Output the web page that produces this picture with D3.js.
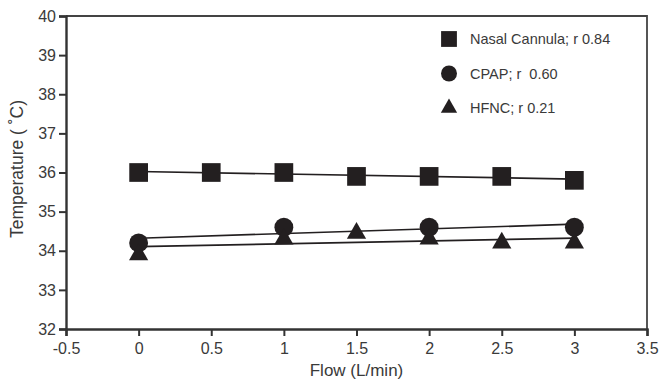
<!DOCTYPE html>
<html>
<head>
<meta charset="utf-8">
<script src="https://cdnjs.cloudflare.com/ajax/libs/d3/7.8.5/d3.min.js"></script>
<style>
  body { margin: 0; background: #fff; }
  text { font-family: "Liberation Sans", Arial, sans-serif; fill: #3a3a3a; }
</style>
</head>
<body>
<div id="chart"></div>
<script>
// data
const flowTicks = [-0.5, 0, 0.5, 1, 1.5, 2, 2.5, 3, 3.5];
const tempTicks = [32, 33, 34, 35, 36, 37, 38, 39, 40];

const nasalFlow = [0, 0.5, 1, 1.5, 2, 2.5, 3];
const nasalTemp = [36.0, 36.0, 36.0, 35.9, 35.9, 35.9, 35.8];
const cpapFlow = [0, 1, 2, 3];
const cpapTemp = [34.2, 34.6, 34.6, 34.6];
const hfncFlow = [0, 1, 1.5, 2, 2.5, 3];
const hfncTemp = [33.9, 34.3, 34.45, 34.3, 34.2, 34.2];

const seriesNames = ['Nasal Cannula; r 0.84', 'CPAP; r  0.60', 'HFNC; r 0.21'];
const seriesSymbols = [d3.symbolSquare, d3.symbolCircle, d3.symbolTriangle];

const W = 659, H = 381;
const margin = { top: 16, right: 12, bottom: 52, left: 66 };
const ink = '#231f20';

const svg = d3.select('#chart').append('svg')
  .attr('width', W).attr('height', H);

const x = d3.scaleLinear().domain([-0.5, 3.5]).range([margin.left, W - margin.right]);
const y = d3.scaleLinear().domain([32, 40]).range([H - margin.bottom, margin.top]);

// frame (top + right)
svg.append('path')
  .attr('d', `M${x(-0.5)},${y(40)}H${x(3.5)}V${y(32)}`)
  .attr('fill', 'none').attr('stroke', '#444').attr('stroke-width', 1.8);

const xAxis = svg.append('g')
  .attr('transform', `translate(0,${y(32)})`)
  .call(d3.axisBottom(x).tickValues(flowTicks).tickFormat(d => String(d)).tickSize(7).tickPadding(7));
const yAxis = svg.append('g')
  .attr('transform', `translate(${x(-0.5)},0)`)
  .call(d3.axisLeft(y).tickValues(tempTicks).tickSize(7).tickPadding(3));

[xAxis, yAxis].forEach(g => {
  g.select('.domain').attr('stroke', '#333').attr('stroke-width', 2.4);
  g.selectAll('.tick line').attr('stroke', '#333').attr('stroke-width', 2);
  g.selectAll('.tick text').attr('font-size', 16).attr('fill', '#3a3a3a')
    .style('font-family', '"Liberation Sans", Arial, sans-serif');
});

svg.append('text')
  .attr('x', (x(-0.5) + x(3.5)) / 2).attr('y', 376)
  .attr('text-anchor', 'middle').attr('font-size', 17)
  .text('Flow (L/min)');

svg.append('text')
  .attr('transform', `translate(23,169) rotate(-90)`)
  .attr('text-anchor', 'middle').attr('font-size', 17.5)
  .style('white-space', 'pre')
  .text('Temperature ( ˚C)');

// least squares fit over measured range
function fit(xs, ys) {
  const mx = d3.mean(xs), my = d3.mean(ys);
  const sxy = d3.sum(xs, (v, i) => (v - mx) * (ys[i] - my));
  const sxx = d3.sum(xs, v => (v - mx) * (v - mx));
  const b = sxy / sxx, a = my - b * mx;
  const x0 = d3.min(xs), x1 = d3.max(xs);
  return [[x0, a + b * x0], [x1, a + b * x1]];
}

const series = [
  { xs: nasalFlow, ys: nasalTemp, sym: seriesSymbols[0], size: 350 },
  { xs: cpapFlow, ys: cpapTemp, sym: seriesSymbols[1], size: 280 },
  { xs: hfncFlow, ys: hfncTemp, sym: seriesSymbols[2], size: 160 }
];

const line = d3.line().x(d => x(d[0])).y(d => y(d[1]));

series.forEach(s => {
  svg.append('path')
    .attr('d', line(fit(s.xs, s.ys)))
    .attr('fill', 'none').attr('stroke', ink).attr('stroke-width', 1.7);
});

series.forEach(s => {
  svg.append('g').selectAll('path')
    .data(s.xs.map((v, i) => [v, s.ys[i]]))
    .join('path')
    .attr('transform', d => `translate(${x(d[0])},${y(d[1])})`)
    .attr('d', d3.symbol().type(s.sym).size(s.size))
    .attr('fill', ink);
});

// legend
const legend = svg.append('g').attr('transform', 'translate(449,39)');
seriesNames.forEach((name, i) => {
  const g = legend.append('g').attr('transform', `translate(0,${i * 34.5})`);
  g.append('path')
    .attr('d', d3.symbol().type(seriesSymbols[i]).size([250, 200, 115][i]))
    .attr('fill', ink);
  g.append('text').attr('x', 21).attr('y', 5)
    .attr('font-size', 14.5).style('white-space', 'pre').text(name);
});
</script>
</body>
</html>
